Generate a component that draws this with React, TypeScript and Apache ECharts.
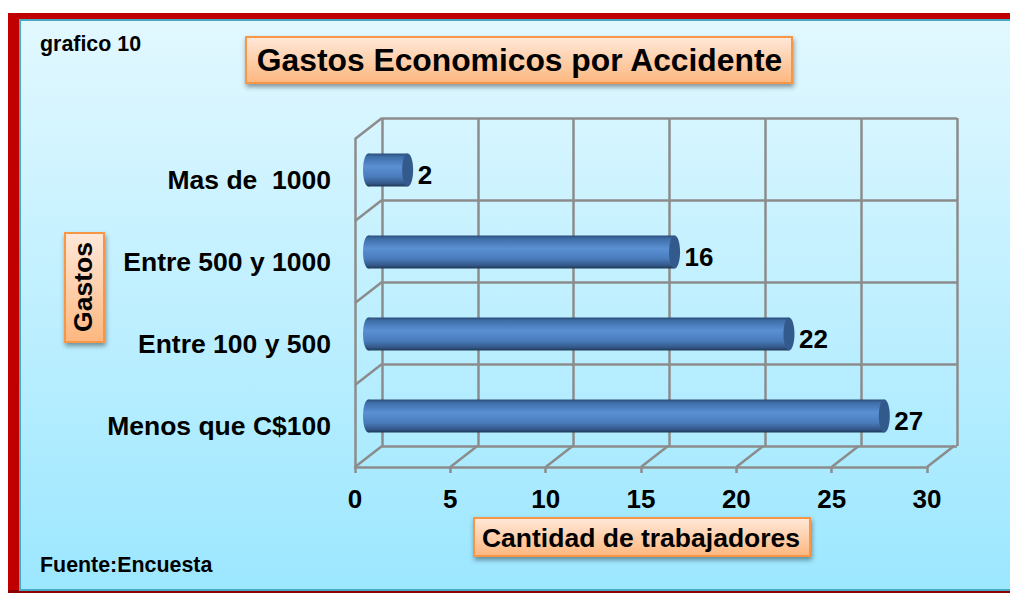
import React, { useEffect, useRef } from "react";
import * as echarts from "echarts";

const categories = ["Menos que C$100", "Entre 100 y 500", "Entre 500 y 1000", "Mas de  1000"];
const values = [27, 22, 16, 2];
const xTicks = [0, 5, 10, 15, 20, 25, 30];
const titleText = "Gastos Economicos por Accidente";
const xName = "Cantidad de trabajadores";
const yName = "Gastos";
const noteTop = "grafico 10";
const noteBottom = "Fuente:Encuesta";

const FONT = "'Liberation Sans', Arial, sans-serif";
const GRID = "#8c8c8c";
const LW = 2.5;
const DX = 27;
const DY = -21;

const boxFill = new echarts.graphic.LinearGradient(0, 0, 0, 1, [
  { offset: 0, color: "#ffe8d9" },
  { offset: 1, color: "#fdb77f" },
]);
const boxStyle = {
  fill: boxFill,
  stroke: "#f79646",
  lineWidth: 2,
  shadowBlur: 5,
  shadowOffsetX: 1,
  shadowOffsetY: 3,
  shadowColor: "rgba(0,0,0,0.4)",
};
const box = (x: number, y: number, width: number, height: number) => ({
  type: "rect",
  z: 1,
  shape: { x, y, width, height },
  style: boxStyle,
});

const barFill = new echarts.graphic.LinearGradient(0, 0, 0, 1, [
  { offset: 0, color: "#2c4d78" },
  { offset: 0.1, color: "#3f6ea8" },
  { offset: 0.4, color: "#5a90d4" },
  { offset: 0.7, color: "#4a7cbc" },
  { offset: 0.9, color: "#34598a" },
  { offset: 1, color: "#1f3856" },
]);

export default function App() {
  const ref = useRef<HTMLDivElement>(null);
  useEffect(() => {
    const chart = echarts.init(ref.current!, null, { renderer: "svg" });
    chart.setOption({
      animation: false,
      backgroundColor: "#ffffff",
      textStyle: { fontFamily: FONT },
      title: {
        text: titleText,
        left: 514.5,
        top: 39,
        textAlign: "center",
        textStyle: { fontFamily: FONT, fontWeight: "bold", fontSize: 31.8, color: "#000" },
        z: 5,
      },
      graphic: [
        { type: "rect", z: 0, shape: { x: 8, y: 13, width: 1002, height: 580 }, style: { fill: "#c00000" } },
        { type: "rect", z: 0, shape: { x: 8, y: 590, width: 1002, height: 3 }, style: { fill: "#8e0000" } },
        {
          type: "rect",
          z: 0,
          shape: { x: 20, y: 20, width: 992, height: 570 },
          style: {
            fill: new echarts.graphic.LinearGradient(0, 0, 0, 1, [
              { offset: 0, color: "#e2f8ff" },
              { offset: 1, color: "#9ce7ff" },
            ]),
            stroke: "#46aac4",
            lineWidth: 2,
          },
        },
        box(246, 37, 546, 46),
        box(65, 233, 39, 109),
        box(474, 518, 336, 38),
        {
          type: "text", z: 5, x: 40, y: 33,
          style: { text: noteTop, fontFamily: FONT, fontWeight: "bold", fontSize: 21.4, fill: "#000" },
        },
        {
          type: "text", z: 5, x: 40, y: 554,
          style: { text: noteBottom, fontFamily: FONT, fontWeight: "bold", fontSize: 21.4, fill: "#000" },
        },
      ],
      grid: [
        { left: 355, top: 139, width: 572, height: 328 },
        { left: 382, top: 118, width: 575, height: 328 },
      ],
      xAxis: [
        {
          type: "value", gridIndex: 0, min: 0, max: 30, interval: 5, z: 4,
          name: xName, nameLocation: "middle", nameGap: 57,
          nameTextStyle: { fontFamily: FONT, fontWeight: "bold", fontSize: 26.5, color: "#000" },
          axisLine: { show: true, lineStyle: { color: GRID, width: LW } },
          axisTick: { show: true, length: 6, lineStyle: { color: GRID, width: LW } },
          axisLabel: { fontFamily: FONT, fontWeight: "bold", fontSize: 26, color: "#000", margin: 19 },
          splitLine: { show: false },
        },
        {
          type: "value", gridIndex: 1, min: 0, max: 30, interval: 5,
          axisLine: { show: false }, axisTick: { show: false }, axisLabel: { show: false },
          splitLine: { show: true, lineStyle: { color: GRID, width: LW } },
        },
      ],
      yAxis: [
        {
          type: "category", gridIndex: 0, data: categories, z: 4,
          name: yName, nameLocation: "middle", nameGap: 257, nameRotate: 90,
          nameTextStyle: { fontFamily: FONT, fontWeight: "bold", fontSize: 26.5, color: "#000", padding: [0, 0, 0, 32] },
          axisLine: { show: true, lineStyle: { color: GRID, width: LW } },
          axisTick: { show: false },
          axisLabel: { fontFamily: FONT, fontWeight: "bold", fontSize: 26.5, color: "#000", margin: 24, padding: [2, 0, 0, 0] },
          splitLine: { show: false },
        },
        {
          type: "category", gridIndex: 1, data: categories,
          axisLine: { show: false }, axisTick: { show: false }, axisLabel: { show: false },
          splitLine: { show: true, lineStyle: { color: GRID, width: LW } },
        },
      ],
      series: [
        {
          type: "custom", name: "floor", xAxisIndex: 0, yAxisIndex: 0, coordinateSystem: "cartesian2d",
          z: 2, clip: false, silent: true,
          encode: { x: 0, y: 1 },
          data: xTicks.map((t) => [t, 0]),
          renderItem: (_p: any, api: any) => {
            const [x, yc] = api.coord([api.value(0), 0]);
            const y = yc + api.size([0, 1])[1] / 2;
            return {
              type: "line",
              shape: { x1: x, y1: y, x2: x + DX, y2: y + DY },
              style: { stroke: GRID, lineWidth: LW },
            };
          },
        },
        {
          type: "custom", name: "side", xAxisIndex: 0, yAxisIndex: 0, coordinateSystem: "cartesian2d",
          z: 2, clip: false, silent: true,
          encode: { x: 0, y: 1 },
          data: categories.map((_c, i) => [0, i]),
          renderItem: (_p: any, api: any) => {
            const [x, yc] = api.coord([0, api.value(1)]);
            const y = yc - api.size([0, 1])[1] / 2;
            return {
              type: "line",
              shape: { x1: x, y1: y, x2: x + DX, y2: y + DY },
              style: { stroke: GRID, lineWidth: LW },
            };
          },
        },
        {
          type: "custom", name: "Trabajadores", xAxisIndex: 0, yAxisIndex: 0, coordinateSystem: "cartesian2d",
          z: 3, clip: false,
          encode: { x: 0, y: 1 },
          data: values.map((v, i) => [v, i]),
          renderItem: (_p: any, api: any) => {
            const v = api.value(0);
            const [x0, yc] = api.coord([0, api.value(1)]);
            const [x1] = api.coord([v, api.value(1)]);
            const sx = x0 + 13.5;
            const ex = x1 + 14.5;
            const cy = yc - 10;
            const ry = 16.5;
            const rx = 5.5;
            return {
              type: "group",
              children: [
                { type: "rect", shape: { x: sx, y: cy - ry, width: ex - sx, height: ry * 2 }, style: { fill: barFill } },
                { type: "ellipse", shape: { cx: sx, cy, rx, ry }, style: { fill: barFill } },
                { type: "ellipse", shape: { cx: ex, cy, rx, ry }, style: { fill: "#335a8c" } },
                {
                  type: "text",
                  x: ex + 10,
                  y: cy + 5,
                  style: {
                    text: String(v), fontFamily: FONT, fontWeight: "bold", fontSize: 26, fill: "#000",
                    align: "left", verticalAlign: "middle",
                  },
                },
              ],
            };
          },
        },
      ],
    });
    return () => chart.dispose();
  }, []);
  return <div ref={ref} style={{ position: "absolute", left: 0, top: 0, width: 1010, height: 593 }} />;
}
